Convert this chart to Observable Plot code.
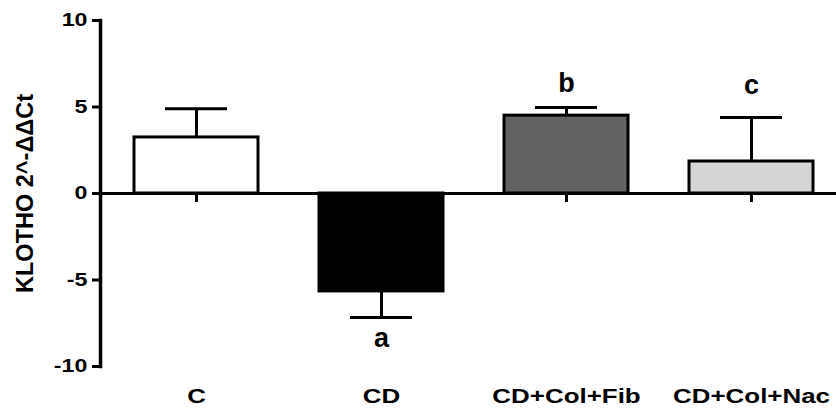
<!DOCTYPE html>
<html><head><meta charset="utf-8">
<script src="https://cdn.jsdelivr.net/npm/d3@7"></script>
<script src="https://cdn.jsdelivr.net/npm/@observablehq/plot@0.6"></script>
<style>html,body{margin:0;padding:0;background:#fff}</style>
</head><body><div id="chart"></div>
<script>
const groups = ["C", "CD", "CD+Col+Fib", "CD+Col+Nac"];
const means = [3.24, -5.66, 4.5, 1.85];
const sems = [1.66, 1.51, 0.47, 2.54];
const sigLetters = ["", "a", "b", "c"];
const letterY = [NaN, -8.4, 6.35, 6.25];
const fills = ["#ffffff", "#000000", "#626262", "#d6d6d6"];
const yTicks = [-10, -5, 0, 5, 10];
const yTitle = "KLOTHO 2^-ΔΔCt";

const data = groups.map((g, i) => ({
  group: g,
  mean: means[i],
  end: means[i] + Math.sign(means[i]) * sems[i],
  letter: sigLetters[i],
  ly: letterY[i],
  fill: fills[i]
}));

const plot = Plot.plot({
  width: 836, height: 409,
  marginLeft: 100, marginRight: 0, marginTop: 20, marginBottom: 43,
  style: {fontFamily: "'Liberation Sans', Arial, sans-serif", background: "#fff", color: "#000"},
  x: {domain: groups, paddingInner: 0.328, paddingOuter: 0.1425, align: 0.6},
  y: {domain: [-10, 10]},
  color: {type: "identity"},
  marks: [
    Plot.frame({anchor: "left", strokeWidth: 3.5}),
    Plot.axisY({ticks: yTicks, tickSize: 8, tickPadding: 5, strokeWidth: 3, fontSize: 17.5, fontWeight: "bold", label: null, tickFormat: d => String(d)}),
    Plot.axisX({anchor: "bottom", tickSize: 0, tickPadding: 23, fontSize: 19.5, fontWeight: "bold", label: null}),
    Plot.ruleX(data, {x: "group", y1: "mean", y2: "end", strokeWidth: 3}),
    Plot.tickY(data, {x: "group", y: "end", strokeWidth: 3, insetLeft: 31, insetRight: 31}),
    Plot.barY(data, {x: "group", y: "mean", fill: "fill", stroke: "#000", strokeWidth: 3}),
    Plot.ruleY([0], {strokeWidth: 3}),
    Plot.ruleX(data, {x: "group", y1: 0, y2: 0, insetBottom: -9, strokeWidth: 3}),
    Plot.text(data.filter(d => d.letter), {x: "group", y: "ly", text: "letter", fontSize: 27, fontWeight: "bold"}),
    Plot.text([yTitle], {frameAnchor: "left", textAnchor: "middle", text: d => d, rotate: -90, dx: -75, fontSize: 23.5, fontWeight: "bold"})
  ]
});

// horizontally widen axis tick labels, as in the reference
plot.querySelectorAll('g[aria-label="y-axis tick label"] text, g[aria-label="x-axis tick label"] text').forEach(t => {
  const tr = t.getAttribute("transform");
  if (tr) {
    t.setAttribute("transform", tr + " scale(1.33,1)");
  } else {
    const x = +t.getAttribute("x") || 0;
    t.removeAttribute("x");
    t.setAttribute("transform", `translate(${x},0) scale(1.33,1)`);
  }
});

document.getElementById("chart").appendChild(plot);
</script>
</body></html>
